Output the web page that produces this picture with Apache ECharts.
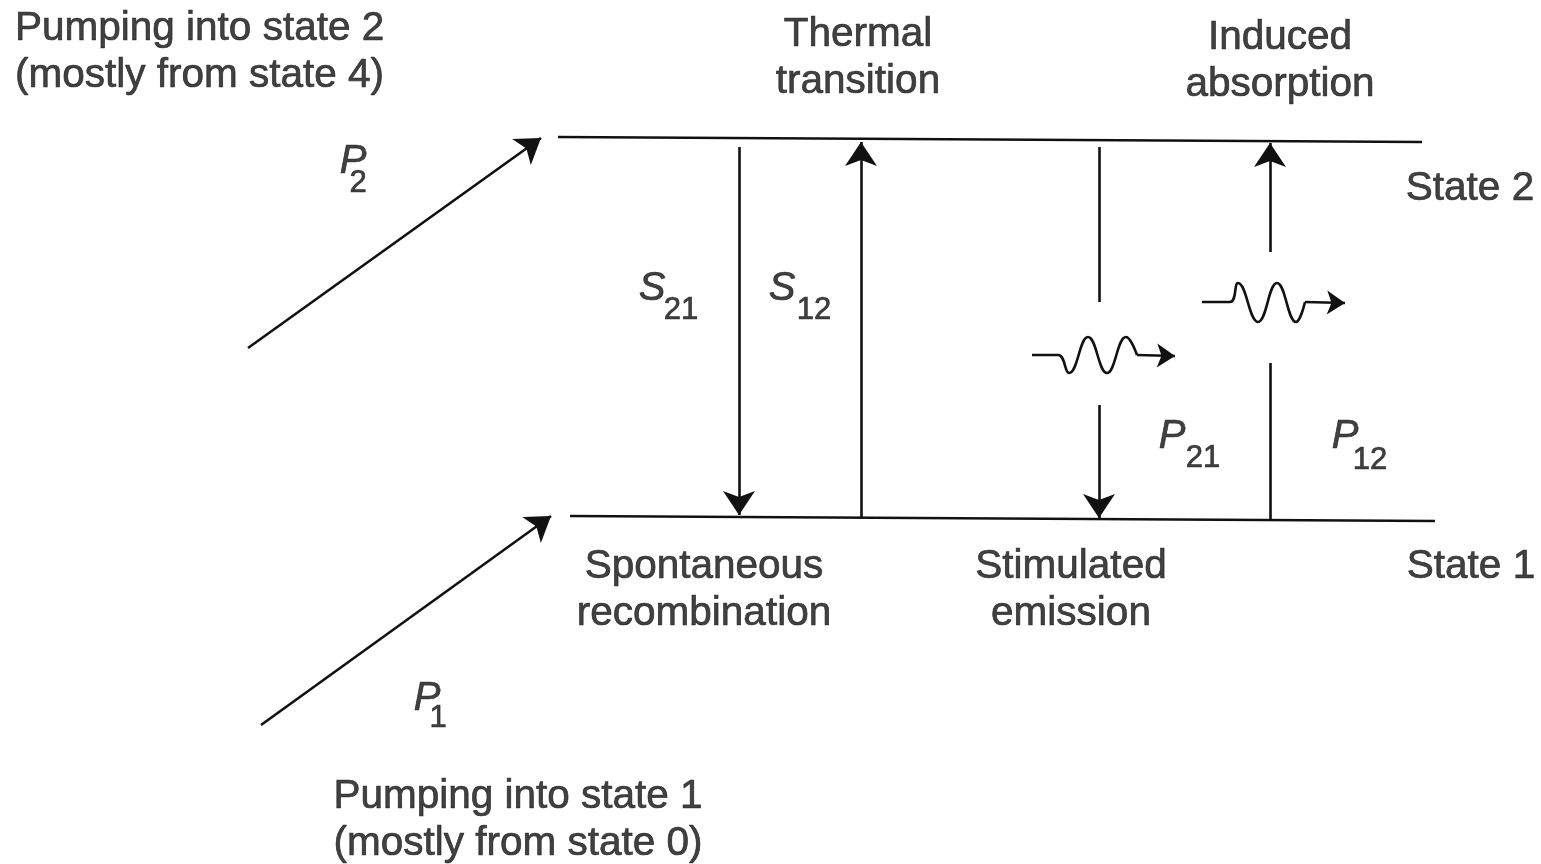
<!DOCTYPE html>
<html>
<head>
<meta charset="utf-8">
<script src="https://cdn.jsdelivr.net/npm/echarts@6/dist/echarts.min.js"></script>
<style>
  html, body { margin: 0; padding: 0; background: #fff; }
  #main { width: 1541px; height: 864px; }
</style>
</head>
<body>
<div id="main"></div>
<script>
// energy levels (state 2 on top, state 1 below), [x, y] in picture units
const levels = [
  [[558, 137], [1422, 142]],
  [[570, 516], [1435, 521]]
];
// pumping arrows P2 and P1
const pumps = [
  [[248, 348], [541, 138]],
  [[261, 725], [551, 516]]
];
// transition arrows, the last point is the arrow tip
const arrows = [
  [[739, 147], [739, 515]],   // S21 spontaneous
  [[861, 517], [861, 142]],   // S12 thermal
  [[1099, 405], [1099, 518]], // P21 stimulated (lower part)
  [[1270, 252], [1270, 143]]  // P12 absorption (upper part)
];
// plain segments without heads
const segments = [
  [[1099, 147], [1099, 302]],
  [[1270, 520], [1270, 363]]
];
// photon wiggles (key points) and their arrow tails
const wave1 = [[1032, 355], [1058, 355], [1069, 373], [1088, 337], [1107, 373], [1126, 337], [1137, 355]];
const wave2 = [[1202, 302], [1230, 302], [1238, 283], [1258, 322], [1277, 283], [1296, 322], [1305, 302]];
const waveTails = [
  [[1137, 355], [1175, 356]],
  [[1305, 302], [1345, 303]]
];
// text blocks: [x, y, text, align]
const texts = [
  [15, 52, 'Pumping into state 2\n(mostly from state 4)', 'left'],
  [858, 58, 'Thermal\ntransition', 'center'],
  [1280, 61, 'Induced\nabsorption', 'center'],
  [1470, 189, 'State 2', 'center'],
  [1471, 567, 'State 1', 'center'],
  [704, 590, 'Spontaneous\nrecombination', 'center'],
  [1071, 590, 'Stimulated\nemission', 'center'],
  [518, 820, 'Pumping into state 1\n(mostly from state 0)', 'center']
];
// rate symbols: [x, y, letter] and subscripts [x, y, digits]
const symbols = [
  [353, 162, 'P'], [427, 699, 'P'],
  [652, 289, 'S'], [782, 289, 'S'],
  [1172, 437, 'P'], [1345, 437, 'P']
];
const subscripts = [
  [358, 183, '2'], [438, 718, '1'],
  [681, 310, '21'], [814, 310, '12'],
  [1203, 458, '21'], [1370, 460, '12']
];

const ink = '#111';
const font = '"Liberation Sans", Arial, Helvetica, sans-serif';

const chart = echarts.init(document.getElementById('main'));

function linesSeries(list, withHead, headSize) {
  return {
    type: 'lines',
    coordinateSystem: 'cartesian2d',
    symbol: withHead ? ['none', 'arrow'] : ['none', 'none'],
    symbolSize: headSize || [13, 24],
    lineStyle: { color: ink, width: 2.6, opacity: 1 },
    silent: true,
    data: list.map(c => ({ coords: c }))
  };
}

function waveSeries(pts) {
  return {
    type: 'line',
    data: pts,
    smooth: 0.45,
    showSymbol: false,
    lineStyle: { color: ink, width: 2.6 },
    silent: true
  };
}

// shared text look, a thin outline in the same ink makes it a bit heavier
const textBase = {
  show: true,
  position: 'inside',
  color: ink,
  fontFamily: font,
  textBorderColor: ink,
  textBorderWidth: 0.7
};

chart.setOption({
  animation: false,
  backgroundColor: '#fff',
  grid: { left: 0, right: 0, top: 0, bottom: 0 },
  xAxis: { type: 'value', min: 0, max: 1541, show: false },
  yAxis: { type: 'value', min: 0, max: 864, inverse: true, show: false },
  series: [
    linesSeries(levels, false),
    linesSeries(segments, false),
    linesSeries(pumps, true),
    linesSeries(arrows, true),
    waveSeries(wave1),
    waveSeries(wave2),
    linesSeries(waveTails, true, [11, 18]),
    {
      type: 'scatter',
      symbolSize: 0,
      silent: true,
      data: texts.map(t => ({
        value: [t[0], t[1]],
        label: { align: t[3] }
      })),
      label: Object.assign({}, textBase, {
        fontSize: 40.5,
        lineHeight: 47,
        formatter: p => texts[p.dataIndex][2]
      })
    },
    {
      type: 'scatter',
      symbolSize: 0,
      silent: true,
      data: symbols.map(s => [s[0], s[1]]),
      label: Object.assign({}, textBase, {
        fontStyle: 'italic',
        fontSize: 40,
        formatter: p => symbols[p.dataIndex][2]
      })
    },
    {
      type: 'scatter',
      symbolSize: 0,
      silent: true,
      data: subscripts.map(s => [s[0], s[1]]),
      label: Object.assign({}, textBase, {
        fontSize: 31,
        formatter: p => subscripts[p.dataIndex][2]
      })
    }
  ]
});
</script>
</body>
</html>
